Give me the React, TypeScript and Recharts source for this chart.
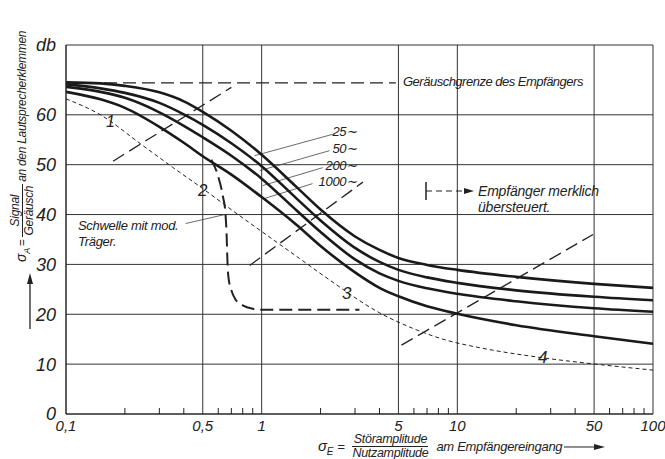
import React from 'react'
import { ComposedChart, Line, XAxis, YAxis, CartesianGrid, ReferenceLine } from 'recharts'

// x = Störamplitude / Nutzamplitude, y = Signal/Geräusch in db
const X_TICKS = [0.1, 0.5, 1, 5, 10, 50, 100]
const Y_TICKS = [0, 10, 20, 30, 40, 50, 60, 74]
const MINOR_TICKS = [0.2, 0.3, 0.4, 0.6, 0.7, 0.8, 0.9, 2, 3, 4, 6, 7, 8, 9, 20, 30, 40, 60, 70, 80, 90]

const CURVE_X = [0.1, 0.15, 0.2, 0.3, 0.4, 0.5, 0.7, 1, 1.5, 2, 3, 4, 5, 7, 10, 20, 50, 100]
const HZ_25 = [66.5, 66.3, 65.8, 64.5, 62.7, 60.6, 56.8, 52.0, 45.6, 41.0, 35.6, 32.9, 31.3, 29.9, 28.9, 27.5, 26.1, 25.3]
const HZ_50 = [66.1, 65.3, 64.4, 62.4, 60.1, 58.0, 54.3, 49.7, 43.3, 38.8, 33.3, 30.5, 28.9, 27.4, 26.3, 24.8, 23.5, 22.8]
const HZ_200 = [65.6, 64.6, 63.4, 60.5, 57.8, 55.5, 51.8, 47.2, 40.9, 36.5, 31.0, 28.2, 26.7, 25.2, 24.1, 22.6, 21.2, 20.5]
const HZ_1000 = [64.6, 63.1, 61.4, 57.6, 54.4, 51.7, 48.0, 43.5, 38.0, 33.7, 28.4, 25.3, 23.6, 21.6, 20.1, 17.8, 15.6, 14.1]
const CURVE_NAMES = ['25∼', '50∼', '200∼', '1000∼']

// thin dashed curve (1-2-3-4)
const THIN_X = [0.1, 0.15, 0.24, 0.35, 0.5, 0.71, 1.06, 1.56, 2.22, 4.0, 5.9, 8.8, 13, 27, 51, 100]
const THIN_Y = [63.2, 60.0, 54.2, 49.5, 45.2, 40.8, 35.9, 31.2, 26.9, 20.3, 17.2, 14.8, 13.3, 11.3, 10.0, 8.8]

// Schwelle mit mod. Träger (curve 2)
const THRESH_X = [0.553, 0.6, 0.635, 0.652, 0.662, 0.668, 0.676, 0.7, 0.74, 0.8, 0.9, 1.0, 3.16]
const THRESH_Y = [51, 47.6, 43.5, 40.5, 36, 31, 27.5, 24.8, 22.8, 21.8, 21.1, 20.9, 20.9]

const NOISE_LIMIT = 66.4
const NOISE_LIMIT_END = 4.85

const DIAGONALS = [
  [[0.174, 50.7], [0.7, 65.5]],
  [[0.869, 29.8], [3.29, 46.5]],
  [[5.18, 13.8], [49.4, 36.0]],
]
const LEADERS = [
  [[2.36, 56.2], [0.92, 51.8]],
  [[2.22, 52.8], [0.977, 48.8]],
  [[2.05, 49.4], [1.01, 45.8]],
  [[1.82, 46.2], [1.03, 43.2]],
  [[0.409, 38.2], [0.648, 40.0]],
]

const toPoints = (xs: number[], ys: number[]) => xs.map((x, i) => ({ x, y: ys[i] }))
const seg = (s: number[][]) => s.map(([x, y]) => ({ x, y }))

const INK = '#222'
const FONT = "'Liberation Sans Narrow', 'Liberation Sans', Arial, sans-serif"

function T({ x, y, size = 13, right, ls = -0.3, children }: any) {
  const pos: any = right ? { right: 665 - x } : { left: x }
  return (
    <div style={{ position: 'absolute', top: y, transform: 'translateY(-50%)', fontSize: size, letterSpacing: ls, fontStyle: 'italic', color: INK, whiteSpace: 'nowrap', lineHeight: 1, ...pos }}>
      {children}
    </div>
  )
}

export default function App() {
  const solid = [HZ_25, HZ_50, HZ_200, HZ_1000]
  return (
    <div style={{ position: 'absolute', left: 0, top: 0, width: 665, height: 459, background: '#fff', fontFamily: FONT }}>
      <ComposedChart width={665} height={459} margin={{ top: 45, right: 12, bottom: 0, left: 0 }}>
        <CartesianGrid stroke="#333" strokeWidth={1} />
        <XAxis
          dataKey="x"
          type="number"
          scale="log"
          domain={[0.1, 100]}
          ticks={X_TICKS}
          allowDataOverflow
          height={45}
          tickLine={false}
          tickMargin={0}
          axisLine={{ stroke: INK }}
          tickFormatter={(v) => String(v).replace('.', ',')}
          tick={{ fill: INK, fontSize: 15, fontStyle: 'italic', fontFamily: FONT }}
        />
        <YAxis
          dataKey="y"
          type="number"
          domain={[0, 74]}
          ticks={Y_TICKS}
          width={66}
          tickLine={false}
          tickMargin={4}
          axisLine={{ stroke: INK }}
          tickFormatter={(v) => (v === 74 ? 'db' : String(v))}
          tick={{ fill: INK, fontSize: 18, fontStyle: 'italic', fontFamily: FONT }}
        />
        {MINOR_TICKS.map((t) => (
          <ReferenceLine key={'m' + t} segment={[{ x: t, y: 0 }, { x: t, y: 1.2 }]} stroke={INK} strokeWidth={1} />
        ))}
        <ReferenceLine segment={[{ x: 0.1, y: NOISE_LIMIT }, { x: NOISE_LIMIT_END, y: NOISE_LIMIT }]} stroke={INK} strokeWidth={1.3} strokeDasharray="13 6" />
        {DIAGONALS.map((d, i) => (
          <ReferenceLine key={'d' + i} segment={seg(d)} stroke={INK} strokeWidth={1.3} strokeDasharray="13 6" />
        ))}
        {LEADERS.map((d, i) => (
          <ReferenceLine key={'l' + i} segment={seg(d)} stroke="#444" strokeWidth={0.8} />
        ))}
        <Line data={toPoints(THIN_X, THIN_Y)} dataKey="y" type="monotone" stroke={INK} strokeWidth={1} strokeDasharray="4 3" dot={false} isAnimationActive={false} />
        <Line data={toPoints(THRESH_X, THRESH_Y)} dataKey="y" type="monotone" stroke={INK} strokeWidth={2} strokeDasharray="13 6" dot={false} isAnimationActive={false} />
        {solid.map((ys, i) => (
          <Line key={CURVE_NAMES[i]} name={CURVE_NAMES[i]} data={toPoints(CURVE_X, ys)} dataKey="y" type="monotone" stroke="#1a1a1a" strokeWidth={2.6} dot={false} isAnimationActive={false} />
        ))}
      </ComposedChart>

      <T x={403} y={81} ls={-0.5}>Geräuschgrenze des Empfängers</T>
      <T x={357} y={131} right>{CURVE_NAMES[0]}</T>
      <T x={357} y={148} right>{CURVE_NAMES[1]}</T>
      <T x={357} y={165} right>{CURVE_NAMES[2]}</T>
      <T x={357} y={181} right>{CURVE_NAMES[3]}</T>
      <T x={78} y={225}>Schwelle mit mod.</T>
      <T x={78} y={241}>Träger.</T>
      <svg style={{ position: 'absolute', left: 424, top: 181 }} width={52} height={20}>
        <line x1={2} y1={1} x2={2} y2={19} stroke={INK} strokeWidth={1.5} />
        <line x1={2} y1={10} x2={42} y2={10} stroke={INK} strokeWidth={1.2} strokeDasharray="6 4" />
        <path d="M40 7 L50 10 L40 13 Z" fill={INK} />
      </svg>
      <T x={478} y={191} size={14} ls={-0.2}>Empfänger merklich</T>
      <T x={478} y={207} size={14} ls={-0.2}>übersteuert.</T>
      <T x={106} y={122} size={16}>1</T>
      <T x={198} y={190} size={17}>2</T>
      <T x={342} y={293} size={17}>3</T>
      <T x={538} y={357} size={17}>4</T>

      {/* y axis title */}
      <div style={{ position: 'absolute', left: 8, top: 262, transform: 'rotate(-90deg)', transformOrigin: 'top left', display: 'flex', alignItems: 'center', height: 28, whiteSpace: 'nowrap', fontStyle: 'italic', color: INK, fontSize: 12, letterSpacing: -0.3 }}>
        <span style={{ fontSize: 14 }}>σ<sub style={{ fontSize: 9 }}>A</sub></span>
        <span style={{ margin: '0 2px' }}>=</span>
        <span style={{ display: 'inline-flex', flexDirection: 'column', alignItems: 'center', lineHeight: 1.05 }}>
          <span>Signal</span>
          <span style={{ borderTop: '1px solid #222', padding: '0 2px' }}>Geräusch</span>
        </span>
        <span style={{ marginLeft: 2 }}>an den Lautsprecherklemmen</span>
      </div>
      <svg style={{ position: 'absolute', left: 24, top: 272 }} width={12} height={58}>
        <line x1={6} y1={57} x2={6} y2={8} stroke={INK} strokeWidth={1.3} />
        <path d="M3 12 L6 1 L9 12 Z" fill={INK} />
      </svg>

      {/* x axis title */}
      <div style={{ position: 'absolute', left: 318, top: 434, height: 25, display: 'flex', alignItems: 'center', whiteSpace: 'nowrap', fontStyle: 'italic', color: INK, fontSize: 13, letterSpacing: -0.3 }}>
        <span style={{ fontSize: 15 }}>σ<sub style={{ fontSize: 10 }}>E</sub></span>
        <span style={{ margin: '0 8px 0 4px' }}>=</span>
        <span style={{ display: 'inline-flex', flexDirection: 'column', alignItems: 'center', lineHeight: 0.92, fontSize: 12.5 }}>
          <span>Störamplitude</span>
          <span style={{ borderTop: '1px solid #222', paddingTop: 1 }}>Nutzamplitude</span>
        </span>
        <span style={{ marginLeft: 8 }}>am Empfängereingang</span>
        <svg width={42} height={10} style={{ marginLeft: 2 }}>
          <line x1={0} y1={5} x2={34} y2={5} stroke={INK} strokeWidth={1.2} />
          <path d="M30 2 L41 5 L30 8 Z" fill={INK} />
        </svg>
      </div>
    </div>
  )
}
